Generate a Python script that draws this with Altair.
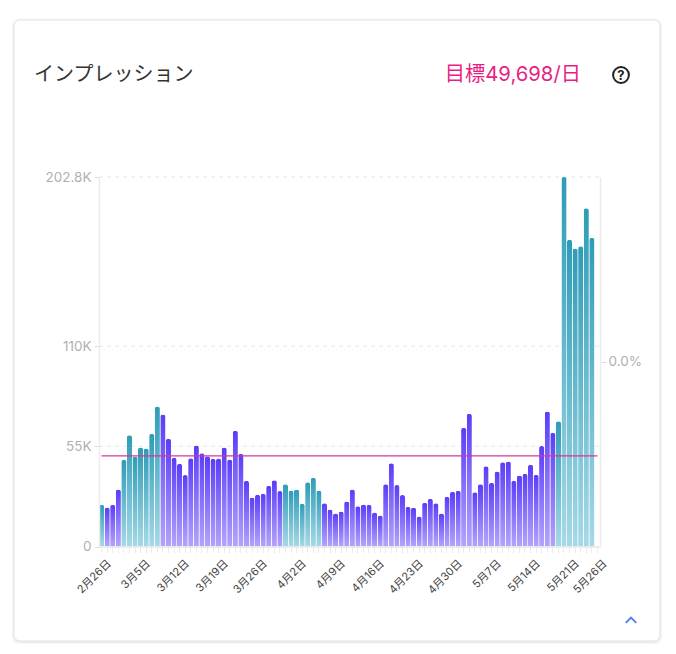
import altair as alt
import pandas as pd

months = [("2月", 26, 28), ("3月", 1, 31), ("4月", 1, 30), ("5月", 1, 26)]
dates = [f"{m}{d}日" for m, a, b in months for d in range(a, b + 1)]
shown = ["2月26日","3月5日","3月12日","3月19日","3月26日","4月2日","4月9日","4月16日",
         "4月23日","4月30日","5月7日","5月14日","5月21日","5月26日"]
values_k = [22.9,21.4,22.9,31.3,47.6,61.1,49.4,54.3,53.8,61.8,76.8,72.4,59.1,48.7,45.4,39.2,
            48.5,55.4,51.2,49.6,48.1,48.3,54.3,47.7,63.5,50.9,36.0,26.9,28.4,28.9,33.3,36.4,
            30.4,34.2,30.7,31.3,23.4,35.3,37.7,30.7,23.8,20.3,18.1,19.2,24.7,31.3,22.1,23.0,
            22.9,18.7,17.0,34.2,45.7,33.7,28.2,21.8,21.2,16.5,24.0,26.2,23.8,18.1,27.3,30.0,
            30.6,65.1,72.8,29.8,34.2,44.1,34.9,41.2,46.3,46.7,36.0,39.0,39.9,44.8,39.3,55.1,
            74.1,62.4,68.8,202.8,168.4,163.5,164.8,185.6,169.5]
teal_days = [0,4,5,6,7,8,9,10,33,34,35,36,37,38,39,82,83,84,85,86,87,88]
target = 49698
ytick_values = [0, 55000, 110000, 202800]
ytick_labels = {0: "0", 55000: "55K", 110000: "110K", 202800: "202.8K"}

df = pd.DataFrame({"date": dates[:len(values_k)], "v": [v * 1000 for v in values_k]})
df["group"] = ["teal" if i in teal_days else "purple" for i in range(len(df))]

FONT = "Inter, 'Noto Sans CJK JP'"
W, H = 501, 369.5
OX, OY = 99, 177
GRAY = "#ececec"

def grad(top, bottom):
    return alt.Gradient(gradient="linear", x1=0, x2=0, y1=0, y2=1,
                        stops=[alt.GradientStop(color=top, offset=0),
                               alt.GradientStop(color=bottom, offset=1)])

xscale = alt.Scale(domain=dates, paddingInner=0.07, paddingOuter=0, align=0, round=False)
yscale = alt.Scale(domain=[0, 202800], nice=False, zero=False)
lblexpr = "indexof(" + str(shown) + ", datum.label) >= 0 ? datum.label : ''"
ylbl = " : ".join(f"datum.value == {k} ? '{v}'" for k, v in ytick_labels.items()) + " : ''"
xaxis = alt.Axis(title=None, labelExpr=lblexpr, labelAngle=-45, labelAlign="right", labelBaseline="middle",
                 labelOverlap=False, labelFontSize=11, labelColor="#444444", labelFont=FONT,
                 tickColor=GRAY, tickSize=6, domainColor="#dddddd", grid=False, labelPadding=9, labelOffset=8,
                 labelBound=False, labelFlush=False, zindex=1)
yaxis = alt.Axis(title=None, values=ytick_values, labelExpr=ylbl, labelColor="#b0b0b0", labelFontSize=13.5,
                 labelFont=FONT, tickColor="#dddddd", tickSize=5, domainColor=GRAY, domainWidth=1.5,
                 grid=False, labelPadding=3, zindex=1)

def bars(group, top, bottom, axis=None):
    return alt.Chart(df[df.group == group]).mark_bar(
        fill=grad(top, bottom), cornerRadiusTopLeft=2.4, cornerRadiusTopRight=2.4
    ).encode(x=alt.X("date:N", scale=xscale, axis=xaxis, sort=dates),
             y=alt.Y("v:Q", scale=yscale, axis=axis))

one = alt.Data(values=[{"a": 1}])
def px(x): return alt.value(x - OX)
def py(y): return alt.value(y - OY)

shadows = [alt.Chart(one).mark_rect(cornerRadius=7, fill="#000000", opacity=o).encode(
    x=px(14 - g), x2=px(660 + g), y=py(20 - g + 1), y2=py(641 + g + 1)) for g, o in [(3, 0.012), (2, 0.02), (1, 0.035)]]
card = alt.Chart(one).mark_rect(cornerRadius=6, fill="#ffffff", stroke="#e2e2e2", strokeWidth=1).encode(
    x=px(14), x2=px(660), y=py(20), y2=py(641))

grid = alt.Chart(alt.Data(values=[{"g": g} for g in ytick_values if g > 0])).mark_rule(
    color="#e6e6e6", strokeDash=[4, 4], strokeWidth=1).encode(
    y=alt.Y("g:Q", scale=yscale, axis=None), x=alt.value(0), x2=alt.value(W))

title = alt.Chart(one).mark_text(text="インプレッション", font=FONT, fontSize=20, align="left", baseline="middle",
                                 color="#333333").encode(x=px(34), y=py(75))
goal = alt.Chart(one).mark_text(text=f"目標{target:,}/日", font=FONT, fontSize=20.3, align="right", baseline="middle",
                                color="#e91e84").encode(x=px(581), y=py(75))
help_c = alt.Chart(one).mark_point(shape="circle", size=250, filled=False, stroke="#222222", strokeWidth=2, opacity=1).encode(
    x=px(621), y=py(75))
help_q = alt.Chart(one).mark_text(text="?", font=FONT, fontSize=13, fontWeight="bold", color="#222222",
                                  align="center", baseline="middle").encode(x=px(621), y=py(75.5))
chev = alt.Chart(one).mark_point(shape="M-1,0.55L0,-0.45L1,0.55", size=110, filled=False, stroke="#4a7df5",
                                 strokeWidth=1.8, opacity=1).encode(x=px(631), y=py(620))

goal_rule = alt.Chart(alt.Data(values=[{"a": dates[0], "b": dates[-1], "t": target}])).mark_rule(
    color="#d6379a", strokeWidth=1.2).encode(
    x=alt.X("a:N", scale=xscale, axis=xaxis), x2="b:N",
    y=alt.Y("t:Q", scale=yscale, axis=None))

right = alt.Chart(alt.Data(values=[{"r": 0}])).mark_point(opacity=0).encode(
    y=alt.Y("r:Q", scale=alt.Scale(domain=[-1, 1], nice=False),
            axis=alt.Axis(orient="right", title=None, values=[0], format=".1%", labelColor="#b0b0b0", labelFontSize=13.5,
                          labelFont=FONT, tickColor="#dddddd", tickSize=6, domainColor=GRAY, domainWidth=1.5,
                          grid=False, labelPadding=2, zindex=1)))

chart = alt.layer(*shadows, card, grid, title, goal, help_c, help_q, chev,
                  bars("teal", "#2e9cb7", "#a6d9e6", axis=yaxis),
                  bars("purple", "#5a3df8", "#b4a4fb"),
                  goal_rule, right).resolve_scale(y="independent").properties(
    width=W, height=H,
    padding={"left": OX - 8, "top": OY - 8, "right": 668 - OX - W, "bottom": 644 - OY - H},
    autosize=alt.AutoSizeParams(type="none"),
).configure_view(stroke=None)

chart.save("out.html", embed_options={"renderer": "svg", "actions": False})
